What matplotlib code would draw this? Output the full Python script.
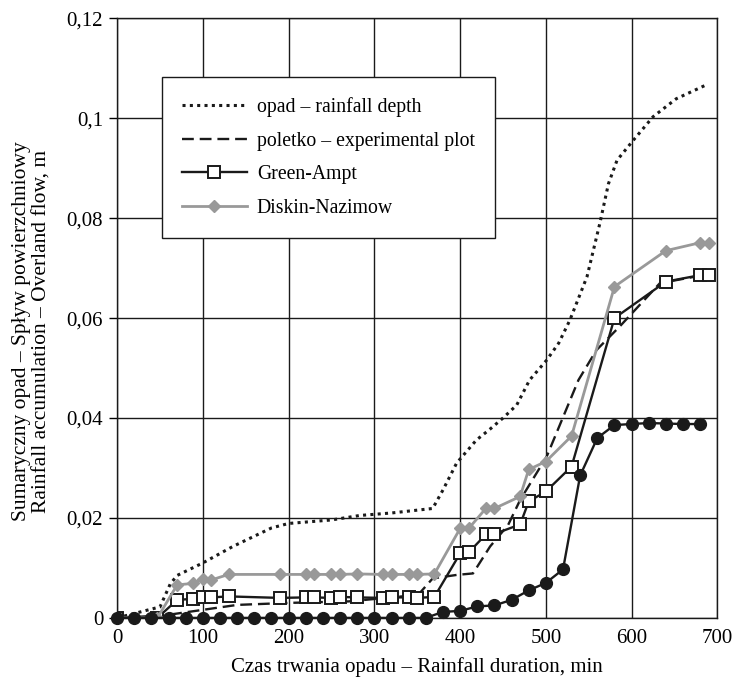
import numpy as np
import matplotlib
matplotlib.use("Agg")
import matplotlib.pyplot as plt
from matplotlib.ticker import FuncFormatter

# rainfall depth (dotted)
opad_t = [0, 50, 62, 70, 100, 135, 180, 200, 250, 283, 320, 368, 380, 396, 419, 435,
          450, 466, 481, 501, 515, 528, 548, 563, 573, 583, 602, 625, 652, 686]
opad_v = [0, 0.0022, 0.0068, 0.0085, 0.011, 0.0143, 0.018, 0.0189, 0.0196, 0.0205,
          0.021, 0.0219, 0.0256, 0.031, 0.0356, 0.0378, 0.040, 0.0426, 0.0476, 0.0516,
          0.055, 0.0596, 0.0683, 0.079, 0.0869, 0.0916, 0.0956, 0.1003, 0.1039, 0.1066]

# experimental plot (dashed)
pol_t = [0, 55, 140, 200, 270, 351, 368, 396, 415, 435, 456, 470, 501, 538, 559, 586, 633, 690]
pol_v = [0, 0.0005, 0.0026, 0.003, 0.0033, 0.0046, 0.0079, 0.0086, 0.0089, 0.0143,
         0.0186, 0.0236, 0.0323, 0.0476, 0.0536, 0.0583, 0.067, 0.0688]

# model runs share the same time steps
mod_t = [0, 47, 70, 88, 100, 110, 130, 190, 220, 230, 250, 260, 280, 310, 320, 340,
         350, 370, 400, 410, 430, 440, 470, 480, 500, 530, 580, 640, 680, 690]
ga_v = [0, 0, 0.0036, 0.0038, 0.0041, 0.0041, 0.0043, 0.0040, 0.0041, 0.0041, 0.0040,
        0.0042, 0.0041, 0.0040, 0.0041, 0.0041, 0.0040, 0.0042, 0.0129, 0.0131, 0.0167,
        0.0168, 0.0187, 0.0233, 0.0253, 0.0303, 0.060, 0.0673, 0.0686, 0.0686]
dn_v = [0, 0, 0.0066, 0.0069, 0.0077, 0.0076, 0.0087, 0.0087, 0.0087, 0.0087, 0.0087,
        0.0087, 0.0088, 0.0087, 0.0087, 0.0087, 0.0087, 0.0088, 0.0179, 0.0179, 0.0219,
        0.0219, 0.0243, 0.0297, 0.0313, 0.0364, 0.0663, 0.0735, 0.0751, 0.0751]

# unlabelled series with filled circles, every 20 min
circ_t = list(range(0, 700, 20))
circ_v = [0] * 19 + [0.0012, 0.0014, 0.0023, 0.0025, 0.0036, 0.0055, 0.007, 0.0097,
                     0.0285, 0.036, 0.0386, 0.0388, 0.039, 0.0389, 0.0388, 0.0388]

plt.rcParams['font.family'] = ['Liberation Serif', 'DejaVu Serif']
plt.rcParams['font.size'] = 15

fig = plt.figure(figsize=(7.32, 6.79), dpi=100)
ax = fig.add_axes([0.160, 0.090, 0.820, 0.883])

ax.plot(opad_t, opad_v, color='#1a1a1a', lw=2.2, ls=(0, (1, 1.4)),
        label='opad – rainfall depth', zorder=3)
ax.plot(pol_t, pol_v, color='#1a1a1a', lw=1.7, ls=(0, (5, 2.5)),
        label='poletko – experimental plot', zorder=3)
ax.plot(mod_t, ga_v, color='#1a1a1a', lw=1.7, marker='s', ms=8, mfc='white',
        mec='#1a1a1a', mew=1.4, label='Green-Ampt', zorder=4)
ax.plot(mod_t, dn_v, color='#999999', lw=2.0, marker='D', ms=6.5, mfc='#999999',
        mec='#999999', label='Diskin-Nazimow', zorder=4)
ax.plot(circ_t, circ_v, color='#1a1a1a', lw=1.7, marker='o', ms=8.5,
        zorder=5, clip_on=False)

ax.set_xlim(0, 700)
ax.set_ylim(0, 0.12)
ax.set_xticks(np.arange(0, 701, 100))
ax.set_yticks(np.arange(0, 0.1201, 0.02))
ax.yaxis.set_major_formatter(FuncFormatter(
    lambda v, p: '0' if abs(v) < 1e-9 else ('%g' % round(v, 3)).replace('.', ',')))
ax.grid(True, color='#1a1a1a', lw=1.0)
ax.set_axisbelow(True)
for s in ax.spines.values():
    s.set_color('#1a1a1a')
    s.set_linewidth(1.0)
ax.tick_params(axis='y', direction='out', length=6, width=1, pad=4)
ax.tick_params(axis='x', length=0, pad=8)

ax.set_ylabel('Sumaryczny opad – Spływ powierzchniowy\nRainfall accumulation – Overland flow, m',
              linespacing=1.1, fontsize=15.5)
ax.yaxis.set_label_coords(-0.11, 0.478)
ax.set_xlabel('Czas trwania opadu – Rainfall duration, min')
ax.xaxis.set_label_coords(0.5, -0.066)

leg = ax.legend(loc='upper left', bbox_to_anchor=(0.075, 0.902), borderaxespad=0,
                fancybox=False, framealpha=1, edgecolor='#1a1a1a', fontsize=14.2,
                handlelength=3.3, labelspacing=0.75, borderpad=1.0, handletextpad=0.5)
leg.get_frame().set_linewidth(1.0)

fig.savefig('out.png', dpi=100)
